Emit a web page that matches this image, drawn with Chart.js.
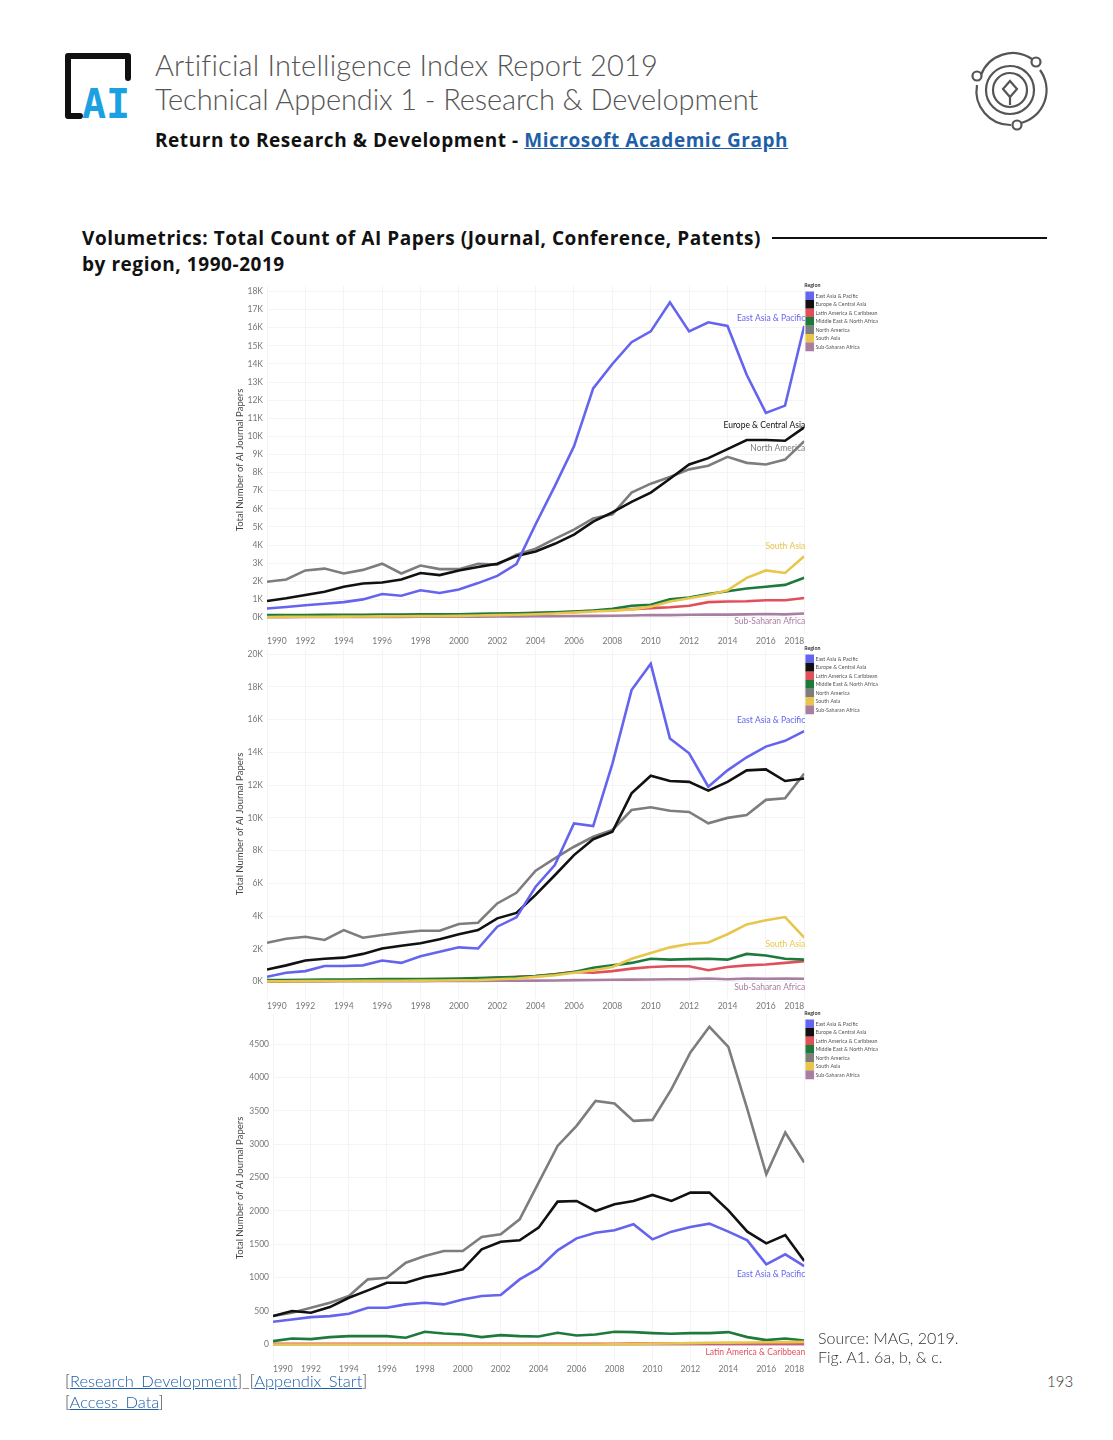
<!DOCTYPE html>
<html>
<head>
<meta charset="utf-8">
<title>AI Index 2019 - Volumetrics by region</title>
<script src="https://cdn.jsdelivr.net/npm/chart.js@4.4.0/dist/chart.umd.min.js"></script>
<style>
  html, body { margin: 0; padding: 0; background: #fff; }
  body { width: 1113px; height: 1440px; position: relative; font-family: "Lato", "Open Sans", sans-serif; overflow: hidden; }
  .abs { position: absolute; white-space: nowrap; }
  .head1 { left: 155px; top: 47px; font-size: 29px; font-weight: 300; color: #555; letter-spacing: 0.2px; }
  .head2 { left: 155px; top: 81px; font-size: 29px; font-weight: 300; color: #555; letter-spacing: -0.1px; }
  .back { left: 155px; top: 127px; font-family: "Open Sans", sans-serif; font-size: 19px; font-weight: 700; color: #111; letter-spacing: 0.55px; }
  a { color: #1f5fa8; text-decoration: underline; }
  .sect { left: 82px; top: 225px; font-family: "Open Sans", sans-serif; font-size: 19px; font-weight: 700; color: #111; line-height: 26px; letter-spacing: 0.55px; }
  .rule { left: 772px; top: 237px; width: 275px; height: 2px; background: #111; }
  .chartbox { position: absolute; }
  .src { left: 818px; top: 1328px; font-size: 16px; color: #333; line-height: 19px; font-weight: 300; }
  .foot { left: 65px; top: 1371px; font-size: 16.5px; color: #333; line-height: 21px; font-weight: 300; }
  .pg { left: 1047px; top: 1372px; font-size: 15px; color: #333; font-weight: 300; }
</style>
</head>
<body>

<!-- logo -->
<svg class="abs" style="left:60px;top:48px" width="90" height="76" viewBox="0 0 90 76">
  <path d="M20 68 H8 V8 H68 V30" fill="none" stroke="#111" stroke-width="6" stroke-linejoin="round" stroke-linecap="round"/>
  <text x="22" y="70" font-family="DejaVu Sans Mono, monospace" font-weight="700" font-size="40" fill="#1ba1e2">AI</text>
</svg>

<!-- round icon -->
<svg class="abs" style="left:965px;top:45px" width="90" height="90" viewBox="0 0 90 90">
  <g fill="none" stroke="#555" stroke-width="2.2">
    <path d="M16 30 A34 34 0 0 1 67 14"/>
    <path d="M75 25 A34 34 0 0 1 56 78"/>
    <path d="M46 80 A34 34 0 0 1 12 40"/>
    <circle cx="12" cy="31" r="4.5"/>
    <circle cx="71" cy="17" r="4.5"/>
    <circle cx="52" cy="80" r="4.5"/>
    <circle cx="45" cy="45" r="24"/>
    <circle cx="45" cy="45" r="17"/>
    <path d="M45 36 L52 44 L45 52 L38 44 Z"/>
    <path d="M45 52 V60"/>
  </g>
</svg>

<div class="abs head1">Artificial Intelligence Index Report 2019</div>
<div class="abs head2">Technical Appendix 1 - Research &amp; Development</div>
<div class="abs back">Return to Research &amp; Development - <a href="#">Microsoft Academic Graph</a></div>

<div class="abs sect">Volumetrics: Total Count of AI Papers (Journal, Conference, Patents)<br>by region, 1990-2019</div>
<div class="abs rule"></div>

<div class="chartbox" style="left:230px;top:277px;width:660px;height:371px"><canvas id="c1"></canvas></div>
<div class="chartbox" style="left:230px;top:640px;width:660px;height:373px"><canvas id="c2"></canvas></div>
<div class="chartbox" style="left:230px;top:1005px;width:660px;height:371px"><canvas id="c3"></canvas></div>

<div class="abs src">Source: MAG, 2019.<br>Fig. A1. 6a, b, &amp; c.</div>
<div class="abs foot">[<a href="#">Research_Development</a>]_[<a href="#">Appendix_Start</a>]<br>[<a href="#">Access_Data</a>]</div>
<div class="abs pg">193</div>

<script>
// years on the x axis
const years = [1990,1991,1992,1993,1994,1995,1996,1997,1998,1999,2000,2001,2002,2003,2004,
               2005,2006,2007,2008,2009,2010,2011,2012,2013,2014,2015,2016,2017,2018];
const regions = ["East Asia & Pacific","Europe & Central Asia","Latin America & Caribbean",
                 "Middle East & North Africa","North America","South Asia","Sub-Saharan Africa"];
const xTicks = [1990,1992,1994,1996,1998,2000,2002,2004,2006,2008,2010,2012,2014,2016,2018];

// chart a (total)
const eastAsia1 = [500,580,680,760,850,1000,1300,1200,1500,1350,1550,1900,2300,2950,5150,7250,9450,12650,14000,15200,15800,17400,15800,16300,16100,13400,11300,11700,16100];
const europe1   = [910,1060,1240,1420,1700,1880,1930,2100,2460,2340,2600,2790,2970,3400,3650,4070,4580,5290,5800,6390,6900,7660,8450,8800,9300,9800,9800,9760,10500];
const latAm1    = [40,50,60,70,80,90,100,110,120,130,150,170,190,210,240,280,320,370,400,460,520,570,650,850,880,900,950,950,1080];
const mena1     = [130,140,140,150,150,150,160,160,180,170,180,200,220,230,260,290,330,380,480,650,700,1000,1100,1300,1450,1600,1700,1800,2200];
const northAm1  = [1970,2100,2600,2700,2430,2630,2970,2430,2870,2670,2670,2970,2920,3470,3800,4340,4850,5470,5700,6900,7390,7760,8180,8380,8870,8540,8450,8720,9730];
const southAs1  = [30,35,40,45,50,55,60,65,75,80,90,110,130,150,180,220,270,330,380,450,600,880,1060,1240,1500,2190,2600,2460,3390];
const subSah1   = [20,20,25,25,30,30,35,35,40,40,45,50,55,60,65,70,80,90,100,110,140,130,150,160,160,170,190,170,220];
const yTicks1 = [0,1000,2000,3000,4000,5000,6000,7000,8000,9000,10000,11000,12000,13000,14000,15000,16000,17000,18000];

// chart b
const eastAsia2 = [300,550,650,960,960,1000,1300,1150,1550,1830,2100,2030,3360,3930,5800,7120,9660,9500,13300,17800,19400,14850,13940,11900,12900,13700,14350,14700,15300];
const europe2   = [750,1000,1300,1400,1470,1700,2030,2200,2350,2600,2900,3150,3870,4200,5300,6500,7730,8700,9150,11500,12570,12250,12200,11660,12200,12900,12960,12250,12400];
const latAm2    = [30,40,50,60,70,80,90,100,110,130,150,180,250,300,350,450,600,550,650,800,900,950,950,700,900,1000,1050,1150,1250];
const mena2     = [100,110,120,130,140,150,160,160,170,180,200,220,250,280,350,450,600,850,1000,1150,1400,1350,1380,1400,1350,1700,1600,1400,1350];
const northAm2  = [2380,2620,2750,2550,3150,2690,2850,3000,3110,3110,3520,3600,4780,5430,6780,7530,8240,8850,9260,10480,10650,10440,10360,9670,10000,10180,11100,11200,12700];
const southAs2  = [30,35,40,45,50,55,60,65,70,80,90,100,150,200,300,400,550,700,900,1400,1750,2100,2300,2400,2900,3500,3750,3950,2700];
const subSah2   = [20,20,25,25,30,30,35,35,40,45,50,55,60,65,70,80,100,110,120,130,140,150,160,200,150,200,180,200,180];
const yTicks2 = [0,2000,4000,6000,8000,10000,12000,14000,16000,18000,20000];

// chart c
const eastAsia3 = [340,375,410,425,460,550,550,600,625,600,675,725,740,975,1140,1410,1590,1675,1710,1800,1575,1690,1760,1810,1690,1560,1200,1350,1175];
const europe3   = [425,500,475,560,700,810,925,925,1010,1060,1125,1425,1540,1560,1750,2140,2150,2000,2100,2150,2240,2150,2275,2275,2010,1690,1515,1640,1250];
const latAm3    = [10,10,10,10,10,10,10,10,10,10,10,10,10,10,10,10,10,10,10,12,12,12,14,14,14,14,14,14,14];
const mena3     = [50,90,80,110,125,125,125,100,190,165,150,110,140,125,120,175,135,150,190,185,170,160,170,170,185,110,65,90,60];
const northAm3  = [425,475,550,625,725,975,1000,1225,1325,1400,1400,1610,1650,1875,2425,2975,3275,3650,3610,3350,3365,3825,4375,4760,4460,3525,2550,3175,2725];
const southAs3  = [0,0,0,0,0,0,0,0,0,0,0,0,0,0,0,0,0,0,2,5,10,15,20,25,28,30,32,35,38];
const subSah3   = [2,2,2,2,2,2,2,2,2,2,2,2,2,2,2,2,2,2,3,3,3,3,4,4,4,4,4,4,4];
const yTicks3 = [0,500,1000,1500,2000,2500,3000,3500,4000,4500];

const colors = ["#6464ef","#111111","#e0505a","#1d7a3c","#7d7d7d","#e8c64c","#a97ea3"];
// order in which lines are painted (first = on top)
const drawOrder = [0,1,4,5,3,2,6];

const endLabels = {
  id: "endLabels",
  afterDatasetsDraw(chart, args, opts) {
    const ctx = chart.ctx;
    ctx.save();
    ctx.font = "8.5px Lato, sans-serif";
    ctx.textAlign = "right";
    ctx.textBaseline = "middle";
    (opts.items || []).forEach(it => {
      const meta = chart.getDatasetMeta(it.ds);
      const pt = meta.data[meta.data.length - 1];
      ctx.fillStyle = colors[it.ds];
      ctx.fillText(regions[it.ds], chart.chartArea.right + 1, pt.y + it.dy);
    });
    ctx.restore();
  }
};

function makeChart(id, series, yMin, yMax, yTicks, fmt, axisW, labels) {
  const datasets = series.map((vals, i) => ({
    label: regions[i],
    data: vals.map((v, k) => ({ x: years[k], y: v })),
    borderColor: colors[i],
    backgroundColor: colors[i],
    borderWidth: 2.6,
    pointRadius: 0,
    tension: 0,
    order: drawOrder.indexOf(i)
  }));
  return new Chart(document.getElementById(id), {
    type: "line",
    data: { datasets },
    plugins: [endLabels],
    options: {
      responsive: true,
      maintainAspectRatio: false,
      animation: false,
      layout: { padding: { top: 0, right: 2, left: 0, bottom: 0 } },
      scales: {
        x: {
          type: "linear", min: 1990, max: 2018,
          grid: { color: "#f4f4f4", drawTicks: false },
          border: { display: false },
          afterBuildTicks: ax => { ax.ticks = xTicks.map(v => ({ value: v })); },
          ticks: { align: "inner", maxRotation: 0, padding: 2, color: "#777",
                   font: { family: "Lato", size: 8.5 }, callback: v => String(v) }
        },
        y: {
          min: yMin, max: yMax,
          grid: { color: "#f4f4f4", drawTicks: false },
          border: { display: false },
          afterBuildTicks: ax => { ax.ticks = yTicks.map(v => ({ value: v })); },
          afterFit: ax => { ax.width = axisW; },
          ticks: { padding: 4, color: "#777", font: { family: "Lato", size: 8.5 }, callback: fmt },
          title: { display: true, text: "Total Number of AI Journal Papers", color: "#444",
                   font: { family: "Lato", size: 9.5 }, padding: { top: 4, bottom: 2 } }
        }
      },
      plugins: {
        tooltip: { enabled: false },
        endLabels: { items: labels },
        legend: {
          position: "right", align: "start",
          title: { display: true, text: "Region", position: "start", color: "#333",
                   font: { family: "Lato", size: 5.3, weight: "bold" }, padding: { top: 6, bottom: 1 } },
          labels: { boxWidth: 6, boxHeight: 6, padding: 2.5, color: "#555",
                    font: { family: "Lato", size: 5.3 },
                    sort: (a, b) => a.datasetIndex - b.datasetIndex }
        }
      }
    }
  });
}

const fmtK = v => (v / 1000) + "K";
const fmtN = v => String(v);

makeChart("c1", [eastAsia1, europe1, latAm1, mena1, northAm1, southAs1, subSah1], -900, 18300, yTicks1, fmtK, 37,
  [{ ds: 0, dy: -8 }, { ds: 1, dy: -2 }, { ds: 4, dy: 7 }, { ds: 5, dy: -10 }, { ds: 6, dy: 8 }]);
makeChart("c2", [eastAsia2, europe2, latAm2, mena2, northAm2, southAs2, subSah2], -1040, 20300, yTicks2, fmtK, 37,
  [{ ds: 0, dy: -11 }, { ds: 5, dy: 7 }, { ds: 6, dy: 8 }]);
makeChart("c3", [eastAsia3, europe3, latAm3, mena3, northAm3, southAs3, subSah3], -260, 4950, yTicks3, fmtN, 43,
  [{ ds: 0, dy: 8 }, { ds: 2, dy: 9 }]);
</script>
</body>
</html>
